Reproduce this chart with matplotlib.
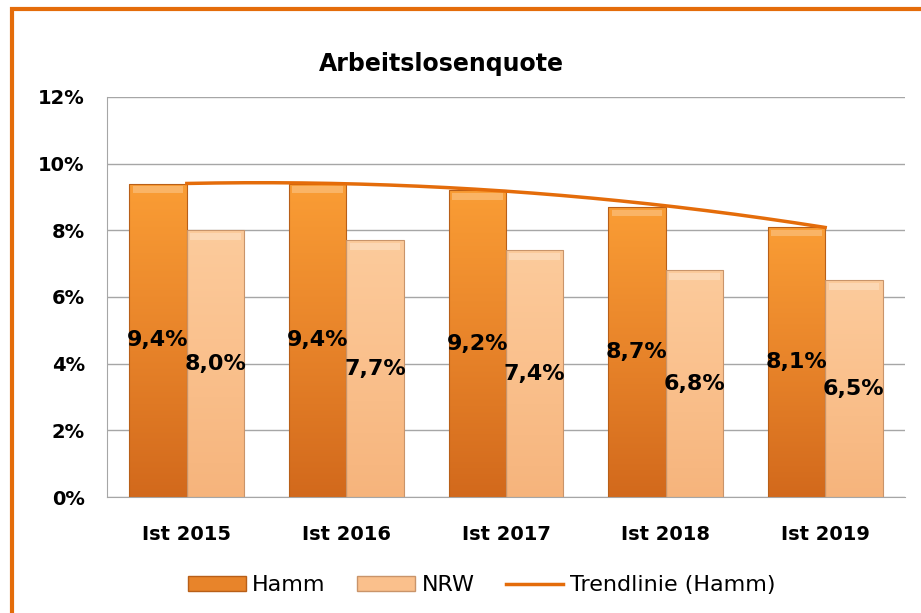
import matplotlib.pyplot as plt
import numpy as np
from matplotlib.patches import Rectangle, Patch
from matplotlib.lines import Line2D
from matplotlib.colors import LinearSegmentedColormap

plt.rcParams['font.family'] = ['DejaVu Sans']

# data
categories = ['Ist 2015', 'Ist 2016', 'Ist 2017', 'Ist 2018', 'Ist 2019']
hamm = [9.4, 9.4, 9.2, 8.7, 8.1]
nrw = [8.0, 7.7, 7.4, 6.8, 6.5]
yticks = [0, 2, 4, 6, 8, 10, 12]

x = np.arange(len(categories))
bw = 0.36

fig = plt.figure(figsize=(9.21, 6.13), dpi=100)
ax = fig.add_axes([0.1162, 0.1892, 0.8664, 0.6526])

# orange frame, right and bottom edges run off the picture
fig.patches.append(Rectangle((12 / 921, -0.05), 1.2, 1 - 9 / 613 + 0.05,
                             transform=fig.transFigure, fill=False,
                             edgecolor='#E46C0A', linewidth=3))

hamm_cmap = LinearSegmentedColormap.from_list('h', ['#D2691C', '#E8842A', '#FA9D35'])
nrw_cmap = LinearSegmentedColormap.from_list('n', ['#F6B47C', '#FAC08C', '#FCCB9C'])


def gradient_bars(xs, vals, cmap, edge):
    bars = ax.bar(xs, vals, bw, color='none', edgecolor=edge, linewidth=0.8, zorder=3)
    for b in bars:
        x0, w, h = b.get_x(), b.get_width(), b.get_height()
        grad = np.linspace(0, 1, 256).reshape(-1, 1)
        im = ax.imshow(grad, cmap=cmap, origin='lower', aspect='auto',
                       extent=[x0, x0 + w, 0, h], zorder=2)
        im.set_clip_path(b)
        # bevel highlight on top
        ax.add_patch(Rectangle((x0 + w * 0.06, h - 0.28), w * 0.88, 0.2,
                               facecolor='white', alpha=0.25, edgecolor='none', zorder=2.5))
    return bars


gradient_bars(x - bw / 2, hamm, hamm_cmap, '#B85F18')
gradient_bars(x + bw / 2, nrw, nrw_cmap, '#C9946A')

# quadratic trendline for Hamm
coef = np.polyfit(x, hamm, 2)
xt = np.linspace(x[0], x[-1], 200)
ax.plot(xt, np.polyval(coef, xt), color='#E46C0A', linewidth=2.5, zorder=4)

# value labels in the middle of the bars
for xi, h, n in zip(x, hamm, nrw):
    ax.text(xi - bw / 2, h / 2, f'{h:.1f}'.replace('.', ',') + '%', ha='center', va='center',
            fontsize=16, fontweight='bold', color='black', zorder=5)
    ax.text(xi + bw / 2, n / 2, f'{n:.1f}'.replace('.', ',') + '%', ha='center', va='center',
            fontsize=16, fontweight='bold', color='black', zorder=5)

ax.set_xlim(-0.5, len(categories) - 0.5)
ax.set_ylim(0, 12)
ax.set_yticks(yticks)
ax.set_yticklabels([f'{t}%' for t in yticks], fontsize=14, fontweight='bold')
ax.set_xticks(x)
ax.set_xticklabels(categories, fontsize=14, fontweight='bold')
ax.tick_params(length=0)
ax.tick_params(axis='x', pad=20)
ax.tick_params(axis='y', pad=16)
ax.yaxis.grid(True, color='#A6A6A6', linewidth=1, zorder=0)
ax.set_axisbelow(True)
for s in ['top', 'right']:
    ax.spines[s].set_visible(False)
for s in ['left', 'bottom']:
    ax.spines[s].set_color('#A6A6A6')

fig.text(0.479, 0.895, 'Arbeitslosenquote', ha='center', va='center',
         fontsize=17, fontweight='bold')

handles = [Patch(facecolor='#E8842A', edgecolor='#B85F18'),
           Patch(facecolor='#FAC08C', edgecolor='#C9946A'),
           Line2D([0], [0], color='#E46C0A', linewidth=2.5)]
fig.legend(handles, ['Hamm', 'NRW', 'Trendlinie (Hamm)'], loc='center',
           bbox_to_anchor=(0.523, 0.045), ncol=3, frameon=False, fontsize=16,
           handlelength=2.6, handleheight=0.7, columnspacing=1.4, handletextpad=0.3)

fig.savefig('out.png', dpi=100)
